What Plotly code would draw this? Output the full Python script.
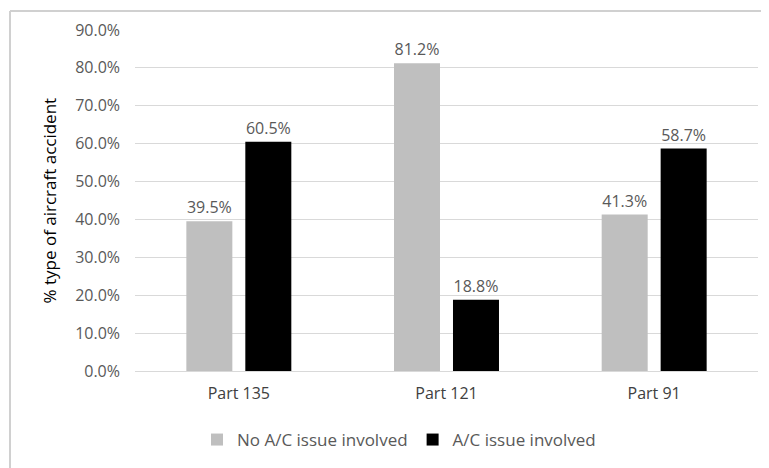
import plotly.graph_objects as go

categories = ["Part 135", "Part 121", "Part 91"]
no_issue = [39.5, 81.2, 41.3]
issue = [60.5, 18.8, 58.7]
series_names = ["No A/C issue involved", "A/C issue involved"]
tick_vals = [0, 10, 20, 30, 40, 50, 60, 70, 80, 90]
y_title = "% type of aircraft accident"

FONT = "Open Sans, Noto Sans, sans-serif"
TXT = "#595959"
FS = 16
OFF = 8  # page body margin

fig = go.Figure()
fig.add_trace(go.Bar(
    x=categories, y=no_issue, name=series_names[0],
    marker=dict(color="#BFBFBF", line=dict(width=0)),
    text=[f"{v:.1f}%" for v in no_issue], textposition="outside",
    textfont=dict(size=FS, color=TXT, family=FONT), cliponaxis=False,
))
fig.add_trace(go.Bar(
    x=categories, y=issue, name=series_names[1],
    marker=dict(color="#000000", line=dict(width=0)),
    text=[f"{v:.1f}%" for v in issue], textposition="outside",
    textfont=dict(size=FS, color=TXT, family=FONT), cliponaxis=False,
))

W, H = 769 - OFF, 468 - OFF
PL, PR, PT, PB = 135 - OFF, 758 - OFF, 30 - OFF, 371 - OFF
L, R, T, B = PL, W - PR, PT, H - PB
pw, ph = PR - PL, PB - PT

def px(x):
    return (x - OFF - PL) / pw

def py(y):
    return (PB - (y - OFF)) / ph

BORDER = dict(color="#D0D0D0", width=2)

fig.update_layout(
    width=W, height=H,
    margin=dict(l=L, r=R, t=T, b=B, autoexpand=False),
    paper_bgcolor="white", plot_bgcolor="white",
    barmode="group", bargap=0.432, bargroupgap=0.22,
    font=dict(family=FONT, color=TXT, size=FS),
    showlegend=True,
    legend=dict(orientation="h", x=px(399), xanchor="center",
                y=py(440), yanchor="middle",
                font=dict(size=17, color=TXT, family=FONT),
                itemwidth=30, traceorder="normal", tracegroupgap=0),
    xaxis=dict(showgrid=False, showline=True, linecolor="#D9D9D9", linewidth=1,
               ticks="", automargin=False, ticklabelstandoff=8,
               tickfont=dict(size=FS, color="#404040", family=FONT)),
    yaxis=dict(range=[0, 90], tickvals=tick_vals,
               ticktext=[f"{v:.1f}%" for v in tick_vals],
               showgrid=True, gridcolor="#D9D9D9", gridwidth=1,
               zeroline=False, showline=False, ticks="", automargin=False,
               ticklabelstandoff=14,
               tickfont=dict(size=FS, color=TXT, family=FONT)),
    annotations=[dict(text=y_title, xref="paper", yref="paper",
                      x=px(49), y=0.5, xanchor="center", yanchor="middle",
                      textangle=-90, showarrow=False,
                      font=dict(size=17, color="#000000", family=FONT))],
    shapes=[
        dict(type="line", xref="paper", yref="paper",
             x0=px(10), x1=(W - PL) / pw, y0=py(11), y1=py(11),
             line=BORDER, layer="above"),
        dict(type="line", xref="paper", yref="paper",
             x0=px(10), x1=px(10), y0=py(11), y1=py(520),
             line=BORDER, layer="above"),
    ],
)
fig.write_html("out.html")
